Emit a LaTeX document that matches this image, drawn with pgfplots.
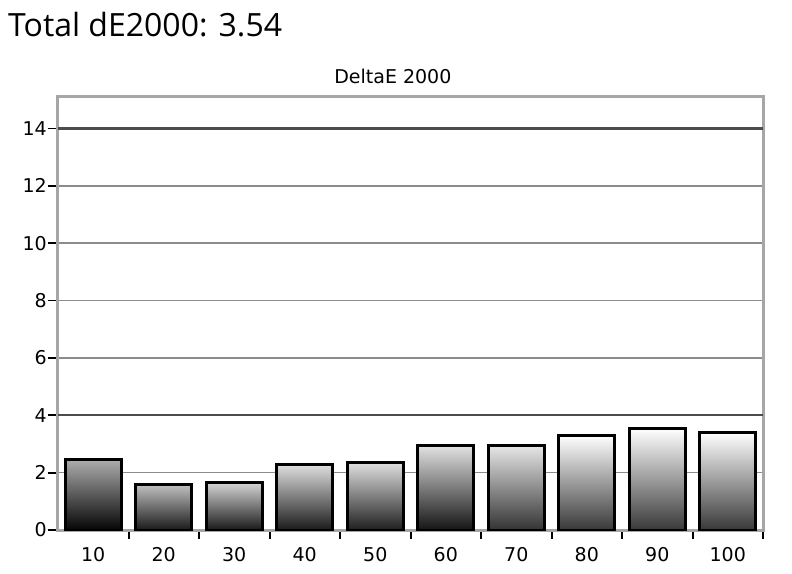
\documentclass[border=0pt]{standalone}
\usepackage{fontspec}
\setmainfont{DejaVu Sans}
\newfontfamily\titlefont{Open Sans}
\usepackage{pgfplots}
\pgfplotsset{compat=1.18}
\begin{document}
\begin{tikzpicture}
\useasboundingbox (0,0) rectangle (792pt,573pt);
\node[anchor=base west,inner sep=0pt] at (8pt,536pt) {\titlefont\fontsize{32}{36}\selectfont Total dE2000: 3.54};
\begin{axis}[
  at={(58pt,43pt)}, anchor=south west,
  scale only axis, width=705pt, height=433pt,
  xmin=-0.5, xmax=9.5, ymin=0, ymax=15.1,
  xtick={0,...,9},
  xticklabels={10,20,30,40,50,60,70,80,90,100},
  minor xtick={0.5,1.5,...,9.5},
  ytick={0,2,...,14},
  extra y ticks={4,14}, extra y tick labels={},
  extra tick style={major grid style={black!70,line width=2.2pt}, major tick length=0pt},
  xtick pos=bottom, ytick pos=left,
  tick align=outside,
  major tick length=10pt, minor tick length=9pt,
  xtick style={draw=none},
  minor x tick style={draw=black,line width=2pt},
  y tick style={black,line width=1.8pt},
  ymajorgrids, major grid style={black!45,line width=1.6pt},
  axis line style={draw=black!35,line width=3pt},
  /pgf/number format/assume math mode=true,
  tick label style={font=\fontsize{19}{22}\selectfont},
  yticklabel style={inner sep=1pt},
  xticklabel style={yshift=-4pt},
  title={DeltaE 2000},
  title style={at={(0.475,1)},anchor=base,yshift=7pt,font=\fontsize{19}{22}\selectfont},
  ybar, bar width=56pt, bar shift=0pt,
  bs/.style={draw=black,line width=3pt},
]
\addplot[bs,bottom color=black!98,top color=black!32] coordinates {(0,2.47)};
\addplot[bs,bottom color=black!90,top color=black!24] coordinates {(1,1.60)};
\addplot[bs,bottom color=black!90,top color=black!16] coordinates {(2,1.67)};
\addplot[bs,bottom color=black!90,top color=black!12] coordinates {(3,2.30)};
\addplot[bs,bottom color=black!88,top color=black!12] coordinates {(4,2.37)};
\addplot[bs,bottom color=black!92,top color=black!12] coordinates {(5,2.93)};
\addplot[bs,bottom color=black!80,top color=black!10] coordinates {(6,2.93)};
\addplot[bs,bottom color=black!78,top color=white] coordinates {(7,3.31)};
\addplot[bs,bottom color=black!78,top color=white] coordinates {(8,3.55)};
\addplot[bs,bottom color=black!78,top color=white] coordinates {(9,3.41)};
\end{axis}
\end{tikzpicture}
\end{document}
